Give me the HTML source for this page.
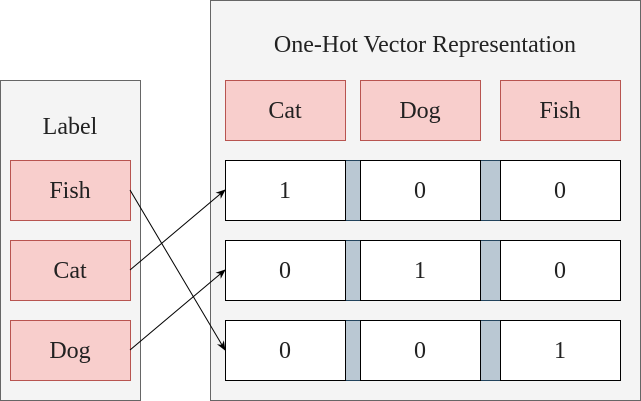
<!DOCTYPE html>
<html><head><meta charset="utf-8"><style>
html,body{margin:0;padding:0;background:#fff;}
svg{display:block;}
text{font-family:"Liberation Serif","DejaVu Serif",serif;font-size:24px;fill:#222;}
</style></head><body>
<svg width="641" height="401" viewBox="0 0 641 401">
<defs><marker id="ah" markerWidth="10" markerHeight="10" refX="9" refY="5" orient="auto" markerUnits="userSpaceOnUse"><path d="M0,1 L10,5 L0,9 L3,5 Z" fill="#000"/></marker></defs>
<g>
<rect x="0.5" y="80.5" width="140" height="320" fill="#f4f4f4" stroke="#666"/>
<text x="70" y="134" text-anchor="middle">Label</text>
<rect x="10.5" y="160.5" width="120" height="60" fill="#f8cecc" stroke="#b85450"/>
<text x="70" y="198" text-anchor="middle">Fish</text>
<rect x="10.5" y="240.5" width="120" height="60" fill="#f8cecc" stroke="#b85450"/>
<text x="70" y="278" text-anchor="middle">Cat</text>
<rect x="10.5" y="320.5" width="120" height="60" fill="#f8cecc" stroke="#b85450"/>
<text x="70" y="358" text-anchor="middle">Dog</text>
</g>
<g>
<rect x="210.5" y="0.5" width="430" height="400" fill="#f4f4f4" stroke="#666"/>
<text x="425" y="52" text-anchor="middle">One-Hot Vector Representation</text>
<rect x="225.5" y="80.5" width="120" height="60" fill="#f8cecc" stroke="#b85450"/>
<text x="285" y="118" text-anchor="middle">Cat</text>
<rect x="360.5" y="80.5" width="120" height="60" fill="#f8cecc" stroke="#b85450"/>
<text x="420" y="118" text-anchor="middle">Dog</text>
<rect x="500.5" y="80.5" width="120" height="60" fill="#f8cecc" stroke="#b85450"/>
<text x="560" y="118" text-anchor="middle">Fish</text>
<g id="rows"></g>
</g>
<g>
<line x1="130" y1="190" x2="225" y2="350" stroke="#000" marker-end="url(#ah)"/>
<line x1="130" y1="270" x2="225" y2="190" stroke="#000" marker-end="url(#ah)"/>
<line x1="130" y1="350" x2="225" y2="270" stroke="#000" marker-end="url(#ah)"/>
</g>
</svg>
<script>
const rowLabels=["cat","dog","fish"];
const vectors=[[1,0,0],[0,1,0],[0,0,1]];
const g=document.getElementById('rows');
const NS="http://www.w3.org/2000/svg";
const cellX=[225,360,500];
vectors.forEach((v,r)=>{
  const y=160+r*80;
  [[345,15],[480,20]].forEach(([sx,sw])=>{
    const s=document.createElementNS(NS,'rect');
    s.setAttribute('x',sx+0.5);s.setAttribute('y',y+0.5);s.setAttribute('width',sw);s.setAttribute('height',60);
    s.setAttribute('fill','#bac8d3');s.setAttribute('stroke','#23445d');
    
    
    g.appendChild(s);
  });
  v.forEach((val,c)=>{
    const rc=document.createElementNS(NS,'rect');
    rc.setAttribute('x',cellX[c]+0.5);rc.setAttribute('y',y+0.5);rc.setAttribute('width',120);rc.setAttribute('height',60);
    rc.setAttribute('fill','#fff');rc.setAttribute('stroke','#000');
    
    
    g.appendChild(rc);
    const t=document.createElementNS(NS,'text');
    t.setAttribute('x',cellX[c]+60);t.setAttribute('y',y+38);t.setAttribute('text-anchor','middle');
    t.textContent=val;
    
    
    g.appendChild(t);
  });
});
</script>
</body></html>
